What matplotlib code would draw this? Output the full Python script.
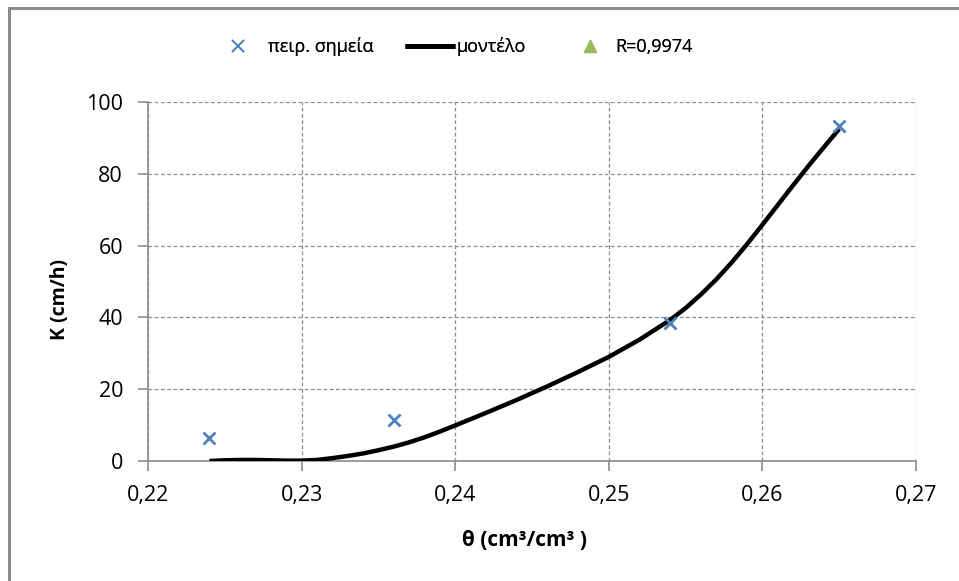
import matplotlib
matplotlib.use("Agg")
import matplotlib.pyplot as plt
from matplotlib.ticker import FuncFormatter
from matplotlib.patches import Rectangle
from matplotlib.lines import Line2D

plt.rcParams['font.family'] = ['Open Sans', 'DejaVu Sans']

# measured points
theta_pts = [0.224, 0.236, 0.254, 0.265]
K_pts = [6.4, 11.4, 38.4, 93.3]

# model curve
theta_model = [0.224, 0.225, 0.226, 0.227, 0.228, 0.229, 0.230, 0.231, 0.232,
               0.233, 0.234, 0.235, 0.236, 0.237, 0.238, 0.239, 0.240, 0.242,
               0.244, 0.246, 0.248, 0.250, 0.252, 0.254, 0.255, 0.256, 0.257,
               0.258, 0.259, 0.260, 0.261, 0.262, 0.263, 0.264, 0.265]
K_model = [0.0, 0.2, 0.3, 0.3, 0.2, 0.1, 0.1, 0.3, 0.8,
           1.4, 2.1, 3.0, 4.0, 5.2, 6.6, 8.2, 9.9, 13.4,
           17.0, 20.8, 24.8, 29.0, 33.8, 39.3, 42.6, 46.4, 50.6,
           55.3, 60.4, 65.8, 71.3, 76.8, 82.2, 87.4, 92.5]

legend_labels = ['πειρ. σημεία', 'μοντέλο', 'R=0,9974']

W, H = 959, 581
fig = plt.figure(figsize=(W / 100, H / 100), dpi=100)
ax = fig.add_axes([148 / W, 1 - 461 / H, (916 - 148) / W, (461 - 102) / H])

# outer chart border (only left/top visible in the crop)
fig.patches.append(Rectangle((9 / W, -0.05), 1.2, 1 - 8 / H + 0.05,
                             transform=fig.transFigure, fill=False,
                             edgecolor='#8c8c8c', linewidth=2.2))

ax.plot(theta_pts, K_pts, linestyle='none', marker='x', color='#4F81BD',
        markersize=9, markeredgewidth=2, zorder=4)
ax.plot(theta_model, K_model, color='black', linewidth=3.2, zorder=3,
        solid_joinstyle='round', solid_capstyle='butt')

ax.set_xlim(0.22, 0.27)
ax.set_ylim(0, 100)
ax.set_xticks([0.22, 0.23, 0.24, 0.25, 0.26, 0.27])
ax.set_yticks([0, 20, 40, 60, 80, 100])
ax.xaxis.set_major_formatter(FuncFormatter(lambda v, p: f"{v:.2f}".replace('.', ',')))

ax.grid(True, color='#8c8c8c', linestyle=(0, (3, 2)), linewidth=0.9)
ax.set_axisbelow(True)
for s in ['top', 'right']:
    ax.spines[s].set_visible(False)
for s in ['left', 'bottom']:
    ax.spines[s].set_color('#8c8c8c')
    ax.spines[s].set_linewidth(1.2)
ax.tick_params(axis='both', direction='out', length=7, width=1.2, color='#8c8c8c',
               labelsize=15.5, labelcolor='black')
ax.tick_params(axis='y', pad=11)
ax.tick_params(axis='x', pad=10)

fig.text(524 / W, 1 - 541 / H, 'θ (cm³/cm³ )', fontsize=15, fontweight='bold',
         ha='center', va='center')
fig.text(60 / W, 1 - 300 / H, 'K (cm/h)', fontsize=14, fontweight='bold',
         ha='center', va='center', rotation=90)

# legend: three entries placed one by one, like the Excel layout
em = 13 * 100 / 72
handles = [
    Line2D([], [], linestyle='none', marker='x', color='#4F81BD', markersize=8,
           markeredgewidth=1.2),
    Line2D([], [], color='black', linewidth=3.5, solid_capstyle='butt'),
    Line2D([], [], linestyle='none', marker='^', color='#9BBB59', markersize=9),
]
starts = [228, 405, 580]      # left edge of each handle box, px
hlen = [20, 50, 20]           # handle box width, px
tstart = [268, 457, 615]      # text start, px
for h, lab, s, hl, ts in zip(handles, legend_labels, starts, hlen, tstart):
    lg = fig.legend([h], [lab], loc='center left', bbox_to_anchor=(s / W, 1 - 47 / H),
                    frameon=False, fontsize=13, borderpad=0, borderaxespad=0,
                    handlelength=hl / em, handletextpad=(ts - s - hl) / em)
    fig.add_artist(lg)

fig.savefig('out.png', dpi=100)
